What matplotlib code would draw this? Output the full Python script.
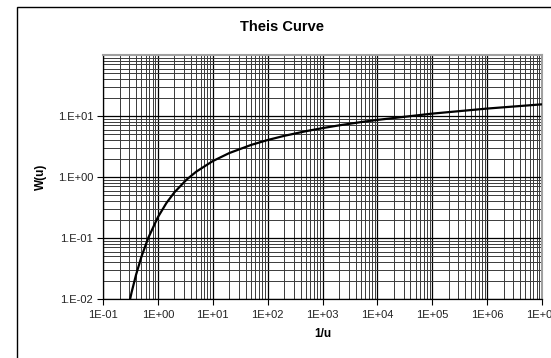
"""Theis type curve: W(u) against 1/u on log-log axes."""

import math

import matplotlib

matplotlib.use("Agg")

import matplotlib.pyplot as plt
from matplotlib.patches import Rectangle
from matplotlib.ticker import FixedLocator, FuncFormatter, LogLocator, NullFormatter


# values
INV_U = [0.2857, 0.3333, 0.4, 0.5, 0.6667, 1.0, 1.4286, 2.0, 3.3333, 5.0, 10.0,
         20.0, 50.0, 100.0, 200.0, 500.0, 1e3, 2e3, 5e3, 1e4, 1e5, 1e6, 1e7]
W_U = [0.00697, 0.01305, 0.02491, 0.0489, 0.1000, 0.2194, 0.3738, 0.5598, 0.9057,
       1.2227, 1.8229, 2.4679, 3.3547, 4.0379, 4.7261, 5.6394, 6.3315, 7.0242,
       7.9402, 8.6332, 10.9357, 13.2383, 15.5403]

X_TICKS = [1e-1, 1e0, 1e1, 1e2, 1e3, 1e4, 1e5, 1e6, 1e7]
Y_TICKS = [1e-2, 1e-1, 1e0, 1e1]
Y_MAX = 1e2

TITLE = "Theis Curve"
X_LABEL = "1/u"
Y_LABEL = "W(u)"

plt.rcParams["font.family"] = ["Liberation Sans", "DejaVu Sans"]

fig = plt.figure(figsize=(5.51, 3.58), dpi=100)

# Excel-style chart area border, running off the right and bottom
fig.patches.append(Rectangle((17 / 551, -0.1), 1.2, 1.1 - 7 / 358,
                             transform=fig.transFigure, fill=False,
                             edgecolor="black", linewidth=1.0))

ax = fig.add_axes([103 / 551, 59 / 358, 439 / 551, 244 / 358])
ax.set_xscale("log")
ax.set_yscale("log")
ax.set_xlim(X_TICKS[0], X_TICKS[-1])
ax.set_ylim(Y_TICKS[0], Y_MAX)

ax.xaxis.set_major_locator(FixedLocator(X_TICKS))
ax.yaxis.set_major_locator(FixedLocator(Y_TICKS))
ax.xaxis.set_minor_locator(LogLocator(base=10, subs=range(2, 10), numticks=20))
ax.yaxis.set_minor_locator(LogLocator(base=10, subs=range(2, 10), numticks=20))
ax.xaxis.set_minor_formatter(NullFormatter())
ax.yaxis.set_minor_formatter(NullFormatter())

ax.xaxis.set_major_formatter(
    FuncFormatter(lambda v, _p: "1E{:+03d}".format(round(math.log10(v)))))
ax.yaxis.set_major_formatter(
    FuncFormatter(lambda v, _p: "1.E{:+03d}".format(round(math.log10(v)))))

ax.grid(True, which="major", color="black", linewidth=0.9)
ax.grid(True, which="minor", color="#3a3a3a", linewidth=0.7)
ax.set_axisbelow(True)

ax.tick_params(which="major", direction="out", length=4, width=0.8,
               labelsize=8, color="black", labelcolor="#222222", pad=3)
ax.tick_params(which="minor", length=0)
ax.tick_params(axis="x", which="major", pad=4)

for side in ("top", "right"):
    ax.spines[side].set_color("#a0a0a0")
    ax.spines[side].set_linewidth(1.5)
for side in ("left", "bottom"):
    ax.spines[side].set_color("black")
    ax.spines[side].set_linewidth(0.9)

ax.plot(INV_U, W_U, color="black", linewidth=1.6, solid_capstyle="butt",
        clip_on=True, zorder=5)

fig.text(282 / 551, 1 - 27 / 358, TITLE, ha="center", va="center",
         fontsize=10.5, fontweight="bold")
ax.set_xlabel(X_LABEL, fontsize=8.5, fontweight="bold", labelpad=6)
ax.set_ylabel(Y_LABEL, fontsize=8.5, fontweight="bold", labelpad=8)

fig.savefig("out.png", dpi=100)
